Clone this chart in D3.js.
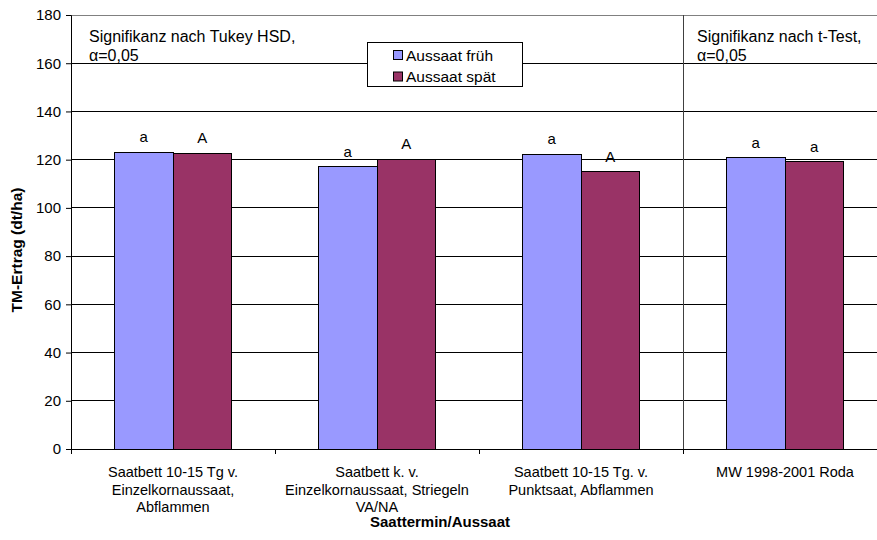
<!DOCTYPE html>
<html><head><meta charset="utf-8">
<script src="https://cdn.jsdelivr.net/npm/d3@7"></script>
<style>
body{margin:0;background:#fff;}
svg{display:block;font-family:"Liberation Sans",Arial,sans-serif;}
</style></head>
<body><svg id="c" width="877" height="540"></svg>
<script>
const categories = [
  ["Saatbett 10-15 Tg v.", "Einzelkornaussaat,", "Abflammen"],
  ["Saatbett k. v.", "Einzelkornaussaat, Striegeln", "VA/NA"],
  ["Saatbett 10-15 Tg. v.", "Punktsaat, Abflammen"],
  ["MW 1998-2001 Roda"]
];
const seriesNames = ["Aussaat früh", "Aussaat spät"];
const frueh = [123.0, 117.1, 122.2, 120.8];
const spaet = [122.6, 120.1, 115.0, 119.2];
const letterFrueh = ["a", "a", "a", "a"];
const letterSpaet = ["A", "A", "A", "a"];
const yTicks = [0, 20, 40, 60, 80, 100, 120, 140, 160, 180];
const colors = ["#9999FF", "#993366"];

const svg = d3.select("#c");
const L = 71, T = 15, B = 449, R = 887;
const x0 = d3.scaleBand().domain(d3.range(categories.length)).range([L, R]).padding(0);
const bw = x0.bandwidth();
const x1 = d3.scaleBand().domain([0, 1]).range([bw * 0.213, bw * 0.787]).padding(0);
const y = d3.scaleLinear().domain([0, 180]).range([B, T]);

// gridlines
svg.append("g").selectAll("line").data(yTicks.filter(d => d > 0)).join("line")
  .attr("x1", L).attr("x2", R).attr("y1", d => y(d)).attr("y2", d => y(d))
  .attr("stroke", d => d === 180 ? "#808080" : "#000").attr("stroke-width", 1)
  .attr("shape-rendering", "crispEdges");

// separator
svg.append("line").attr("x1", x0(3)).attr("x2", x0(3)).attr("y1", T).attr("y2", B + 5)
  .attr("stroke", "#404040").attr("shape-rendering", "crispEdges");

// bars
const data = categories.map((c, i) => [frueh[i], spaet[i]]);
const letters = categories.map((c, i) => [letterFrueh[i], letterSpaet[i]]);
const g = svg.append("g").selectAll("g").data(data).join("g")
  .attr("transform", (d, i) => `translate(${x0(i)},0)`);
g.selectAll("rect").data(d => d).join("rect")
  .attr("x", (d, j) => x1(j)).attr("width", x1.bandwidth())
  .attr("y", d => y(d)).attr("height", d => B - y(d))
  .attr("fill", (d, j) => colors[j]).attr("stroke", "#000").attr("stroke-width", 1)
  .attr("shape-rendering", "crispEdges");
g.selectAll("text").data((d, i) => d.map((v, j) => ({v, l: letters[i][j], j}))).join("text")
  .attr("x", d => x1(d.j) + x1.bandwidth() / 2).attr("y", d => y(d.v) - 10)
  .attr("text-anchor", "middle").attr("font-size", 15).text(d => d.l);

// y axis
const ya = svg.append("g").attr("transform", `translate(${L},0)`)
  .call(d3.axisLeft(y).tickValues(yTicks).tickSize(5).tickPadding(5));
ya.select(".domain").attr("stroke", "#000");
ya.selectAll("text").attr("font-size", 15).attr("fill", "#000").attr("font-family", "Liberation Sans, Arial");
ya.selectAll("line").attr("stroke", "#000");

// x axis
svg.append("line").attr("x1", L).attr("x2", R).attr("y1", B).attr("y2", B).attr("stroke", "#000").attr("shape-rendering", "crispEdges");
svg.append("g").selectAll("line").data(d3.range(categories.length + 1)).join("line")
  .attr("x1", i => L + i * bw).attr("x2", i => L + i * bw).attr("y1", B).attr("y2", B + 5)
  .attr("stroke", "#000").attr("shape-rendering", "crispEdges");

// category labels
svg.append("g").selectAll("text").data(categories).join("text")
  .attr("x", (d, i) => x0(i) + bw / 2).attr("y", 477)
  .attr("text-anchor", "middle").attr("font-size", 14.5)
  .each(function(d) {
    d3.select(this).selectAll("tspan").data(d).join("tspan")
      .attr("x", d3.select(this).attr("x")).attr("dy", (t, k) => k ? 17.5 : 0).text(t => t);
  });

// axis titles
svg.append("text").attr("x", 440).attr("y", 527).attr("text-anchor", "middle")
  .attr("font-size", 15).attr("font-weight", "bold").text("Saattermin/Aussaat");
svg.append("text").attr("transform", "translate(22,250) rotate(-90)").attr("text-anchor", "middle")
  .attr("font-size", 15.5).attr("font-weight", "bold").text("TM-Ertrag (dt/ha)");

// annotations
const ann = svg.append("g").attr("font-size", 16);
ann.append("text").attr("x", 89).attr("y", 42).text("Signifikanz nach Tukey HSD,");
ann.append("text").attr("x", 89).attr("y", 61).text("α=0,05");
ann.append("text").attr("x", 697).attr("y", 42).text("Signifikanz nach t-Test,");
ann.append("text").attr("x", 697).attr("y", 61).text("α=0,05");

// legend
const lg = svg.append("g");
lg.append("rect").attr("x", 367.5).attr("y", 42.5).attr("width", 155).attr("height", 44)
  .attr("fill", "#fff").attr("stroke", "#000");
seriesNames.forEach((s, j) => {
  lg.append("rect").attr("x", 393.5).attr("y", 50.5 + j * 21.5).attr("width", 9).attr("height", 9)
    .attr("fill", colors[j]).attr("stroke", "#000");
  lg.append("text").attr("x", 406).attr("y", 60.5 + j * 21.5).attr("font-size", 15.5).text(s);
});
</script></body></html>
